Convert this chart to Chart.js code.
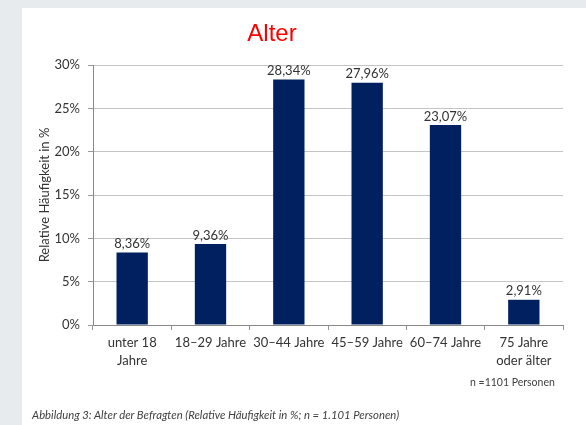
<!DOCTYPE html>
<html>
<head>
<meta charset="utf-8">
<script src="https://cdn.jsdelivr.net/npm/chart.js"></script>
<style>
  body { margin: 0; width: 586px; height: 425px; background: #e8ebed; overflow: hidden; font-family: Lato, "Open Sans", sans-serif; }
  #panel { position: absolute; left: 22px; top: 8px; width: 564px; height: 417px; background: #fff; }
  #chartBox { position: absolute; left: 0; top: 0; width: 564px; height: 417px; }
  #title { position: absolute; left: 22px; top: 19px; width: 500px; text-align: center; font: 24px "Liberation Sans", Arial, sans-serif; color: #ff0000; }
  #note { position: absolute; left: 470px; top: 376px; font-size: 10.5px; color: #404040; }
  #caption { position: absolute; left: 32px; top: 408px; font-size: 11.3px; font-style: italic; color: #404040; }
</style>
</head>
<body>
<div id="panel">
  <div id="chartBox"><canvas id="ageChart"></canvas></div>
</div>
<div id="title">Alter</div>
<div id="note">n =1101 Personen</div>
<div id="caption">Abbildung 3: Alter der Befragten (Relative Häufigkeit in %; n = 1.101 Personen)</div>

<script>
// Altersgruppen und relative Häufigkeiten (%)
const categories = [["unter 18", "Jahre"], "18–29 Jahre", "30–44 Jahre", "45–59 Jahre", "60–74 Jahre", ["75 Jahre", "oder älter"]];
const values = [8.36, 9.36, 28.34, 27.96, 23.07, 2.91];
const yTicks = [0, 5, 10, 15, 20, 25, 30];

const fmt = v => v.toFixed(2).replace(".", ",") + "%";

// Werte über den Balken
const valueLabels = {
    id: "valueLabels",
    afterDatasetsDraw(chart) {
        const ctx = chart.ctx;
        const meta = chart.getDatasetMeta(0);
        ctx.save();
        ctx.font = "13px Lato, 'Open Sans', sans-serif";
        ctx.fillStyle = "#333";
        ctx.textAlign = "center";
        ctx.textBaseline = "bottom";
        meta.data.forEach((bar, i) => {
            ctx.fillText(fmt(values[i]), bar.x, bar.y - 2);
        });
        ctx.restore();
    }
};

new Chart(document.getElementById("ageChart"), {
    type: "bar",
    data: {
        labels: categories,
        datasets: [{
            data: values,
            backgroundColor: "#002060",
            barPercentage: 0.4,
            categoryPercentage: 1
        }]
    },
    options: {
        responsive: true,
        maintainAspectRatio: false,
        animation: false,
        layout: { padding: { top: 57, left: 0, right: 23, bottom: 50 } },
        plugins: {
            legend: { display: false },
            tooltip: { enabled: false }
        },
        scales: {
            x: {
                afterFit(scale) { scale.height = 50; },
                grid: { drawOnChartArea: false, drawTicks: true, tickLength: 5, tickColor: "#999", offset: true },
                border: { color: "#888" },
                ticks: {
                    color: "#333",
                    padding: 4,
                    maxRotation: 0,
                    autoSkip: false,
                    font: { family: "Lato, 'Open Sans', sans-serif", size: 13, lineHeight: 1.35 }
                }
            },
            y: {
                min: 0,
                max: 30,
                afterFit(scale) { scale.width = 71; },
                afterBuildTicks(scale) { scale.ticks = yTicks.map(v => ({ value: v })); },
                grid: { color: "#c4c4c4", tickLength: 5, tickColor: "#999" },
                border: { color: "#888" },
                ticks: {
                    color: "#333",
                    padding: 8,
                    font: { family: "Lato, 'Open Sans', sans-serif", size: 13 },
                    callback: v => v + "%"
                },
                title: {
                    display: true,
                    text: "Relative Häufigkeit in %",
                    color: "#333",
                    padding: { top: 15, bottom: 0 },
                    font: { family: "Lato, 'Open Sans', sans-serif", size: 13 }
                }
            }
        }
    },
    plugins: [valueLabels]
});
</script>
</body>
</html>
